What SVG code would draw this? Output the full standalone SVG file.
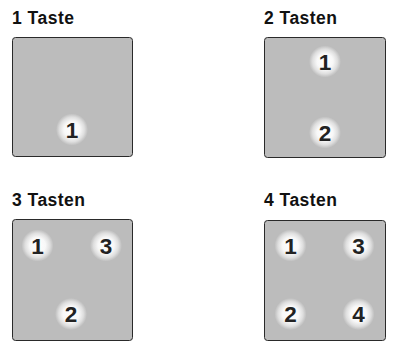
<svg xmlns="http://www.w3.org/2000/svg" width="398" height="351" viewBox="0 0 398 351">
<defs>
<radialGradient id="btn" cx="50%" cy="50%" r="50%">
<stop offset="0" stop-color="#ffffff"/>
<stop offset="0.5" stop-color="#f8f8f8"/>
<stop offset="0.78" stop-color="#dedede"/>
<stop offset="0.92" stop-color="#c8c8c8"/>
<stop offset="1" stop-color="#bcbcbc"/>
</radialGradient>
</defs>
<style>
.title{font-family:"Liberation Sans",Arial,Helvetica,sans-serif;font-weight:700;font-size:17.5px;fill:#111}
.panel{fill:#bcbcbc;stroke:#2a2a2a;stroke-width:1}
.btn{fill:url(#btn)}
.num{font-family:"Liberation Sans",Arial,Helvetica,sans-serif;font-weight:700;font-size:22.5px;fill:#222;text-anchor:middle}
</style>
<rect width="398" height="351" fill="#ffffff"/>
<g id="p1">
<text class="title" x="12" y="24" textLength="62" lengthAdjust="spacing">1 Taste</text>
<rect class="panel" x="12.5" y="37.5" width="120" height="119" rx="3"/>
<g id="p1b1"><circle class="btn" cx="72" cy="129.5" r="16"/><text class="num" x="72" y="137.5">1</text></g>
</g>
<g id="p2">
<text class="title" x="264" y="24" textLength="73" lengthAdjust="spacing">2 Tasten</text>
<rect class="panel" x="264.5" y="37.5" width="121" height="120" rx="3"/>
<g id="p2b1"><circle class="btn" cx="325" cy="61.5" r="16"/><text class="num" x="325" y="69.5">1</text></g>
<g id="p2b2"><circle class="btn" cx="325" cy="132.5" r="16"/><text class="num" x="325" y="140.5">2</text></g>
</g>
<g id="p3">
<text class="title" x="12" y="206" textLength="73" lengthAdjust="spacing">3 Tasten</text>
<rect class="panel" x="12.5" y="219.5" width="120" height="121" rx="3"/>
<g id="p3b1"><circle class="btn" cx="37.5" cy="245.5" r="16"/><text class="num" x="37.5" y="253.5">1</text></g>
<g id="p3b3"><circle class="btn" cx="106" cy="245.5" r="16"/><text class="num" x="106" y="253.5">3</text></g>
<g id="p3b2"><circle class="btn" cx="71" cy="314" r="16"/><text class="num" x="71" y="322">2</text></g>
</g>
<g id="p4">
<text class="title" x="264" y="206" textLength="73" lengthAdjust="spacing">4 Tasten</text>
<rect class="panel" x="264.5" y="220.5" width="121" height="120" rx="3"/>
<g id="p4b1"><circle class="btn" cx="290.5" cy="245.5" r="16"/><text class="num" x="290.5" y="253.5">1</text></g>
<g id="p4b3"><circle class="btn" cx="358.5" cy="245.5" r="16"/><text class="num" x="358.5" y="253.5">3</text></g>
<g id="p4b2"><circle class="btn" cx="290.5" cy="314" r="16"/><text class="num" x="290.5" y="322">2</text></g>
<g id="p4b4"><circle class="btn" cx="358.5" cy="314" r="16"/><text class="num" x="358.5" y="322">4</text></g>
</g>
<g id="connectors"/>
</svg>
